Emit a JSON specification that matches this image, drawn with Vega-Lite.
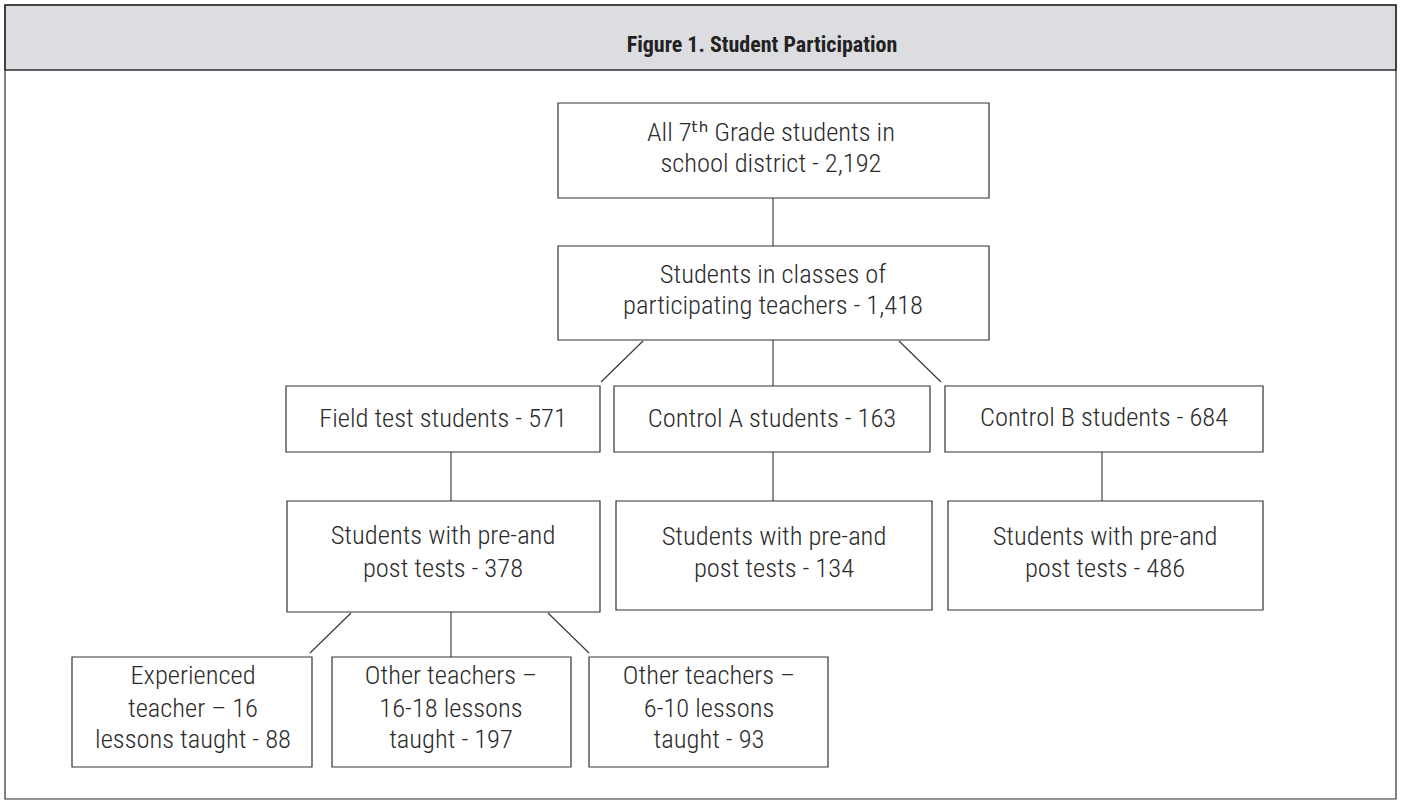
{
  "$schema": "https://vega.github.io/schema/vega-lite/v6.json",
  "width": 1401,
  "height": 800,
  "autosize": {"type": "fit", "contains": "padding"},
  "padding": 0,
  "background": "white",
  "config": {"view": {"stroke": null}},
  "datasets": {
    "band": [{"x0": 5, "x1": 1396, "y0": 5, "y1": 70}],
    "frame": [{"x0": 5, "x1": 1396, "y0": 5, "y1": 799}],
    "boxes": [
      {"box": "All students", "x0": 558, "x1": 989, "y0": 103, "y1": 198},
      {"box": "Participating", "x0": 558, "x1": 989, "y0": 246, "y1": 340},
      {"box": "Field test", "x0": 286, "x1": 600, "y0": 386, "y1": 452},
      {"box": "Control A", "x0": 614, "x1": 930, "y0": 386, "y1": 452},
      {"box": "Control B", "x0": 945, "x1": 1263, "y0": 386, "y1": 452},
      {"box": "Field pre-post", "x0": 287, "x1": 600, "y0": 501, "y1": 612},
      {"box": "Control A pre-post", "x0": 616, "x1": 932, "y0": 501, "y1": 610},
      {"box": "Control B pre-post", "x0": 948, "x1": 1263, "y0": 501, "y1": 610},
      {"box": "Experienced", "x0": 72, "x1": 312, "y0": 657, "y1": 767},
      {"box": "Other 16-18", "x0": 332, "x1": 571, "y0": 657, "y1": 767},
      {"box": "Other 6-10", "x0": 589, "x1": 828, "y0": 657, "y1": 767}
    ],
    "links": [
      {"x0": 773, "y0": 198, "x1": 773, "y1": 246},
      {"x0": 643, "y0": 341, "x1": 601, "y1": 382},
      {"x0": 773, "y0": 340, "x1": 773, "y1": 386},
      {"x0": 899, "y0": 341, "x1": 941, "y1": 382},
      {"x0": 451, "y0": 452, "x1": 451, "y1": 501},
      {"x0": 773, "y0": 452, "x1": 773, "y1": 501},
      {"x0": 1102, "y0": 452, "x1": 1102, "y1": 501},
      {"x0": 351, "y0": 613, "x1": 310, "y1": 653},
      {"x0": 451, "y0": 612, "x1": 451, "y1": 657},
      {"x0": 548, "y0": 613, "x1": 589, "y1": 653}
    ],
    "labels": [
      {"x": 771, "y": 141, "text": "All 7ᵗʰ Grade students in"},
      {"x": 771, "y": 172, "text": "school district - 2,192"},
      {"x": 773, "y": 283, "text": "Students in classes of"},
      {"x": 773, "y": 314, "text": "participating teachers - 1,418"},
      {"x": 443, "y": 427, "text": "Field test students - 571"},
      {"x": 772, "y": 427, "text": "Control A students - 163"},
      {"x": 1104, "y": 426, "text": "Control B students - 684"},
      {"x": 443, "y": 544, "text": "Students with pre-and"},
      {"x": 443, "y": 577, "text": "post tests - 378"},
      {"x": 774, "y": 545, "text": "Students with pre-and"},
      {"x": 774, "y": 577, "text": "post tests - 134"},
      {"x": 1105, "y": 545, "text": "Students with pre-and"},
      {"x": 1105, "y": 577, "text": "post tests - 486"},
      {"x": 193, "y": 684, "text": "Experienced"},
      {"x": 193, "y": 717, "text": "teacher – 16"},
      {"x": 193, "y": 748, "text": "lessons taught - 88"},
      {"x": 451, "y": 684, "text": "Other teachers –"},
      {"x": 451, "y": 717, "text": "16-18 lessons"},
      {"x": 451, "y": 748, "text": "taught - 197"},
      {"x": 709, "y": 684, "text": "Other teachers –"},
      {"x": 709, "y": 717, "text": "6-10 lessons"},
      {"x": 709, "y": 748, "text": "taught - 93"}
    ],
    "title": [{"x": 762, "y": 52, "text": "Figure 1. Student Participation"}]
  },
  "layer": [
    {
      "data": {"name": "band"},
      "mark": {"type": "rect", "fill": "#dcdde0", "stroke": "#2e2e2e", "strokeWidth": 1.5},
      "encoding": {
        "x": {"field": "x0", "type": "quantitative", "scale": {"domain": [0, 1401], "nice": false, "zero": false}, "axis": null},
        "x2": {"field": "x1"},
        "y": {"field": "y0", "type": "quantitative", "scale": {"domain": [0, 800], "nice": false, "zero": false, "reverse": true}, "axis": null},
        "y2": {"field": "y1"}
      }
    },
    {
      "data": {"name": "frame"},
      "mark": {"type": "rect", "fill": null, "fillOpacity": 0, "stroke": "#2e2e2e", "strokeWidth": 1.2},
      "encoding": {
        "x": {"field": "x0", "type": "quantitative"},
        "x2": {"field": "x1"},
        "y": {"field": "y0", "type": "quantitative"},
        "y2": {"field": "y1"}
      }
    },
    {
      "data": {"name": "links"},
      "mark": {"type": "rule", "stroke": "#333333", "strokeWidth": 1.1},
      "encoding": {
        "x": {"field": "x0", "type": "quantitative"},
        "x2": {"field": "x1"},
        "y": {"field": "y0", "type": "quantitative"},
        "y2": {"field": "y1"}
      }
    },
    {
      "data": {"name": "boxes"},
      "mark": {"type": "rect", "fill": "white", "stroke": "#333333", "strokeWidth": 1.2},
      "encoding": {
        "x": {"field": "x0", "type": "quantitative"},
        "x2": {"field": "x1"},
        "y": {"field": "y0", "type": "quantitative"},
        "y2": {"field": "y1"}
      }
    },
    {
      "data": {"name": "labels"},
      "mark": {"type": "text", "font": "Roboto Condensed, DejaVu Sans Condensed, Lato, sans-serif", "fontSize": 26.5, "fontWeight": 300, "color": "#2b2b2b", "align": "center", "baseline": "alphabetic"},
      "encoding": {
        "x": {"field": "x", "type": "quantitative"},
        "y": {"field": "y", "type": "quantitative"},
        "text": {"field": "text"}
      }
    },
    {
      "data": {"name": "title"},
      "mark": {"type": "text", "font": "Roboto Condensed, DejaVu Sans Condensed, Lato, sans-serif", "fontSize": 22, "fontWeight": "bold", "color": "#222222", "align": "center", "baseline": "alphabetic"},
      "encoding": {
        "x": {"field": "x", "type": "quantitative"},
        "y": {"field": "y", "type": "quantitative"},
        "text": {"field": "text"}
      }
    }
  ]
}
